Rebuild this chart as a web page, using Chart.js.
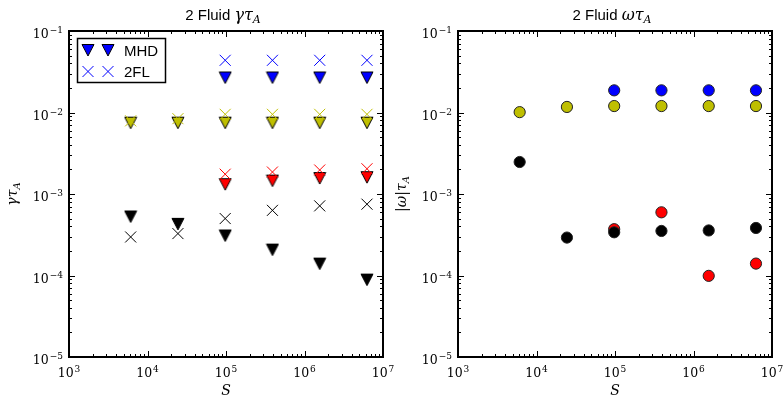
<!DOCTYPE html>
<html>
<head>
<meta charset="utf-8">
<script src="https://cdn.jsdelivr.net/npm/chart.js@4.4.0/dist/chart.umd.min.js"></script>
<style>
  body { margin: 0; background: #fff; }
  #wrap { position: relative; width: 784px; height: 399px; }
  canvas { position: absolute; top: 0; }
</style>
</head>
<body>
<div id="wrap">
  <canvas id="gamma" width="400" height="399" style="left:0"></canvas>
  <canvas id="omega" width="392" height="399" style="left:392px"></canvas>
</div>
<script>
// Lundquist numbers S of the runs
const S = [6103.5, 24414, 97656, 390625, 1562500, 6250000];

// growth rate gamma*tau_A: MHD (triangles) and two-fluid (crosses), one pair per mode
const mhdBlue   = [null, null, 0.0269, 0.0269, 0.0269, 0.0269];
const flBlue    = [null, null, 0.0437, 0.0437, 0.0437, 0.0437];
const mhdYellow = [0.0075, 0.0075, 0.0075, 0.0075, 0.0075, 0.0075];
const flYellow  = [0.0079, 0.0084, 0.0095, 0.0095, 0.0095, 0.0095];
const mhdRed    = [null, null, 0.00132, 0.00146, 0.00157, 0.00161];
const flRed     = [null, null, 0.00175, 0.00186, 0.00197, 0.00204];
const mhdBlack  = [5.3e-4, 4.3e-4, 3.1e-4, 2.08e-4, 1.4e-4, 8.9e-5];
const flBlack   = [2.97e-4, 3.27e-4, 5.0e-4, 6.3e-4, 7.15e-4, 7.5e-4];

// real frequency |omega|*tau_A (two-fluid)
const omBlue   = [null, null, 0.0187, 0.0187, 0.0187, 0.0187];
const omYellow = [0.0101, 0.0117, 0.0120, 0.0120, 0.0120, 0.0120];
const omRed    = [null, null, 3.7e-4, 5.96e-4, 9.9e-5, 1.4e-4];
const omBlack  = [2.47e-3, 2.92e-4, 3.39e-4, 3.52e-4, 3.57e-4, 3.83e-4];

// axis decades (exponents) and legend names
const xExp = [3, 4, 5, 6, 7];
const yExp = [-5, -4, -3, -2, -1];
const legendLabels = ['MHD', '2FL'];

const BLUE = '#0000ff', YELLOW = '#bfbf00', RED = '#ff0000', BLACK = '#000000';
const SERIF = '"DejaVu Serif"';
const SANS = '"Liberation Sans", Arial, sans-serif';

const pts = arr => S.map((s, i) => ({ x: s, y: arr[i] })).filter(p => p.y !== null);

// downward triangle marker with a black edge
function makeTri(color) {
  const c = document.createElement('canvas');
  c.width = 14; c.height = 14;
  const g = c.getContext('2d');
  g.beginPath();
  g.moveTo(1, 1.5); g.lineTo(13, 1.5); g.lineTo(7, 13); g.closePath();
  g.fillStyle = color; g.fill();
  g.lineWidth = 1; g.strokeStyle = '#000'; g.stroke();
  return c;
}

const triSet = (arr, color) => ({
  data: pts(arr), pointStyle: makeTri(color), pointRadius: 6
});
const crossSet = (arr, color) => ({
  data: pts(arr), pointStyle: 'crossRot', pointRadius: 7.8,
  borderColor: color, pointBorderWidth: 1
});
const dotSet = (arr, color) => ({
  data: pts(arr), pointStyle: 'circle', pointRadius: 5.6,
  backgroundColor: color, borderColor: '#222', pointBorderWidth: 1
});

// draws a row of text pieces (font, vertical shift) starting at x
function drawRuns(ctx, x, y, runs, align) {
  let total = 0;
  runs.forEach(r => { ctx.font = r.font; total += ctx.measureText(r.t).width + (r.gap || 0); });
  let cx = align === 'center' ? x - total / 2 : align === 'right' ? x - total : x;
  ctx.textAlign = 'left';
  ctx.textBaseline = 'alphabetic';
  runs.forEach(r => {
    ctx.font = r.font;
    cx += r.gap || 0;
    ctx.fillText(r.t, cx, y + (r.dy || 0));
    cx += ctx.measureText(r.t).width;
  });
}

const pow10 = e => [
  { t: '10', font: '12.5px ' + SERIF },
  { t: e < 0 ? '\u2212' + (-e) : String(e), font: '9px ' + SERIF, dy: -5, gap: 1 }
];

// frame, log ticks, tick labels, title and axis labels
function framePlugin(title, ylabel, legend) {
  return {
    id: 'frame',
    afterDraw(chart) {
      const ctx = chart.ctx, ca = chart.chartArea;
      const xs = chart.scales.x, ys = chart.scales.y;
      ctx.save();
      ctx.strokeStyle = '#000';
      ctx.fillStyle = '#000';

      ctx.lineWidth = 1;
      ctx.beginPath();
      for (let i = 0; i < xExp.length; i++) {
        const e = xExp[i];
        const px = Math.round(xs.getPixelForValue(Math.pow(10, e))) + 0.5;
        ctx.moveTo(px, ca.bottom); ctx.lineTo(px, ca.bottom - 6);
        ctx.moveTo(px, ca.top); ctx.lineTo(px, ca.top + 6);
        if (i < xExp.length - 1) {
          for (let m = 2; m <= 9; m++) {
            const q = Math.round(xs.getPixelForValue(m * Math.pow(10, e))) + 0.5;
            ctx.moveTo(q, ca.bottom); ctx.lineTo(q, ca.bottom - 3);
            ctx.moveTo(q, ca.top); ctx.lineTo(q, ca.top + 3);
          }
        }
      }
      for (let i = 0; i < yExp.length; i++) {
        const e = yExp[i];
        const py = Math.round(ys.getPixelForValue(Math.pow(10, e))) + 0.5;
        ctx.moveTo(ca.left, py); ctx.lineTo(ca.left + 6, py);
        ctx.moveTo(ca.right, py); ctx.lineTo(ca.right - 6, py);
        if (i < yExp.length - 1) {
          for (let m = 2; m <= 9; m++) {
            const q = Math.round(ys.getPixelForValue(m * Math.pow(10, e))) + 0.5;
            ctx.moveTo(ca.left, q); ctx.lineTo(ca.left + 3, q);
            ctx.moveTo(ca.right, q); ctx.lineTo(ca.right - 3, q);
          }
        }
      }
      ctx.stroke();

      ctx.lineWidth = 2;
      ctx.strokeRect(ca.left, ca.top, ca.right - ca.left, ca.bottom - ca.top);

      xExp.forEach(e => {
        drawRuns(ctx, xs.getPixelForValue(Math.pow(10, e)), ca.bottom + 20, pow10(e), 'center');
      });
      yExp.forEach(e => {
        drawRuns(ctx, ca.left - 6, ys.getPixelForValue(Math.pow(10, e)) + 7, pow10(e), 'right');
      });

      const mid = (ca.left + ca.right) / 2;
      drawRuns(ctx, mid - 3, 20, title, 'center');
      drawRuns(ctx, mid, ca.bottom + 38, [{ t: 'S', font: 'italic 14px ' + SERIF }], 'center');

      ctx.save();
      ctx.translate(ca.left - 52, (ca.top + ca.bottom) / 2);
      ctx.rotate(-Math.PI / 2);
      drawRuns(ctx, 0, 0, ylabel, 'center');
      ctx.restore();

      if (legend) {
        ctx.lineWidth = 1.5;
        ctx.strokeRect(77.5, 38.5, 88, 44);
        const tri = makeTri(BLUE);
        [88, 108].forEach(x => {
          ctx.drawImage(tri, x - 7, 50 - 7);
          ctx.beginPath();
          ctx.strokeStyle = BLUE; ctx.lineWidth = 1;
          ctx.moveTo(x - 5.5, 66); ctx.lineTo(x + 5.5, 77);
          ctx.moveTo(x + 5.5, 66); ctx.lineTo(x - 5.5, 77);
          ctx.stroke();
        });
        ctx.fillStyle = '#000';
        ctx.font = '15px ' + SANS;
        ctx.textAlign = 'left';
        ctx.fillText(legendLabels[0], 124, 56);
        ctx.fillText(legendLabels[1], 124, 77);
      }
      ctx.restore();
    }
  };
}

const logScales = {
  x: { type: 'logarithmic', min: 1e3, max: 1e7, display: false },
  y: { type: 'logarithmic', min: 1e-5, max: 1e-1, display: false }
};
const baseOptions = (padLeft, padRight) => ({
  responsive: false,
  animation: false,
  events: [],
  layout: { padding: { left: padLeft, right: padRight, top: 31, bottom: 42 } },
  scales: logScales,
  plugins: { legend: { display: false }, tooltip: { enabled: false } }
});

const titleFont = '15px ' + SANS;
const mathFont = 'italic 16px ' + SERIF;
const subFont = 'italic 11px ' + SERIF;

new Chart(document.getElementById('gamma').getContext('2d'), {
  type: 'scatter',
  data: {
    datasets: [
      crossSet(flBlue, BLUE), triSet(mhdBlue, BLUE),
      crossSet(flYellow, YELLOW), triSet(mhdYellow, YELLOW),
      crossSet(flRed, RED), triSet(mhdRed, RED),
      crossSet(flBlack, BLACK), triSet(mhdBlack, BLACK)
    ]
  },
  options: baseOptions(69, 17),
  plugins: [framePlugin(
    [{ t: '2 Fluid ', font: titleFont },
     { t: '\u03b3\u03c4', font: mathFont },
     { t: 'A', font: subFont, dy: 3 }],
    [{ t: '\u03b3\u03c4', font: 'italic 14px ' + SERIF },
     { t: 'A', font: 'italic 10px ' + SERIF, dy: 3 }],
    true)]
});

new Chart(document.getElementById('omega').getContext('2d'), {
  type: 'scatter',
  data: {
    datasets: [
      dotSet(omBlack, BLACK), dotSet(omRed, RED),
      dotSet(omBlue, BLUE), dotSet(omYellow, YELLOW)
    ]
  },
  options: baseOptions(66, 12),
  plugins: [framePlugin(
    [{ t: '2 Fluid ', font: titleFont },
     { t: '\u03c9\u03c4', font: mathFont },
     { t: 'A', font: subFont, dy: 3 }],
    [{ t: '|', font: '14px ' + SERIF },
     { t: '\u03c9', font: 'italic 14px ' + SERIF },
     { t: '|', font: '14px ' + SERIF },
     { t: '\u03c4', font: 'italic 14px ' + SERIF },
     { t: 'A', font: 'italic 10px ' + SERIF, dy: 3 }],
    false)]
});
</script>
</body>
</html>
